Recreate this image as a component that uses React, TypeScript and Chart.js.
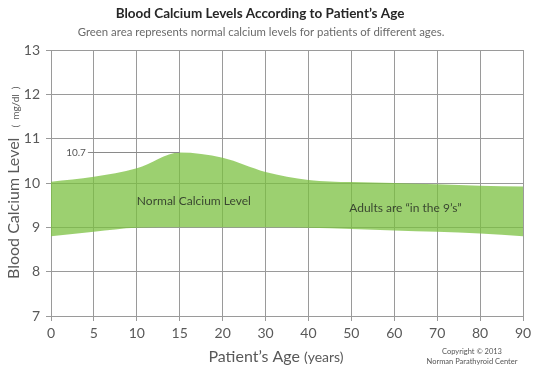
import { useEffect, useRef } from 'react';
import { Chart, registerables } from 'chart.js';

Chart.register(...registerables);

const ages = ['0', '5', '10', '15', '20', '30', '40', '50', '60', '70', '80', '90'];
const upperNormal = [10.03, 10.14, 10.33, 10.69, 10.57, 10.25, 10.07, 10.02, 10.0, 9.97, 9.94, 9.92];
const lowerNormal = [8.8, 8.9, 8.99, 9.0, 9.0, 9.0, 8.99, 8.96, 8.93, 8.9, 8.86, 8.8];
const yMin = 7;
const yMax = 13;
const peakValue = 10.7;
const peakIndex = 3;
const areaLabels = [
  { text: 'Normal Calcium Level', at: 3.33, value: 9.58 },
  { text: 'Adults are \u201Cin the 9\u2019s\u201D', at: 8.26, value: 9.44 },
];

const titleText = 'Blood Calcium Levels According to Patient\u2019s Age';
const subtitleText = 'Green area represents normal calcium levels for patients of different ages.';
const yTitle = 'Blood Calcium Level';
const yUnit = '(  mg/dl  )';
const xTitle = 'Patient\u2019s Age';
const xUnit = '(years)';
const copyright1 = 'Copyright \u00A9 2013';
const copyright2 = 'Norman Parathyroid Center';

const FONT = 'Lato, "Open Sans", sans-serif';

const textPlugin = {
  id: 'texts',
  afterDatasetsDraw(chart: any) {
    const ctx = chart.ctx;
    const xs = chart.scales.x;
    const ys = chart.scales.y;
    ctx.save();
    // titles
    ctx.textAlign = 'center';
    ctx.textBaseline = 'middle';
    ctx.fillStyle = '#262626';
    ctx.font = `bold 13.5px ${FONT}`;
    ctx.fillText(titleText, 260, 14);
    ctx.fillStyle = '#6a6a6a';
    ctx.font = `11.4px ${FONT}`;
    ctx.fillText(subtitleText, 261, 32);

    // area labels
    ctx.fillStyle = '#3a4830';
    ctx.font = `12px ${FONT}`;
    for (const l of areaLabels) {
      ctx.fillText(l.text, xs.getPixelForValue(l.at), ys.getPixelForValue(l.value));
    }

    // peak annotation
    const py = Math.round(ys.getPixelForValue(peakValue)) + 0.5;
    const startX = xs.getPixelForValue(0.86);
    ctx.strokeStyle = '#8a8a8a';
    ctx.lineWidth = 1;
    ctx.beginPath();
    ctx.moveTo(startX, py);
    ctx.lineTo(xs.getPixelForValue(peakIndex), py);
    ctx.stroke();
    ctx.textAlign = 'right';
    ctx.fillStyle = '#555555';
    ctx.font = `10px ${FONT}`;
    ctx.fillText(String(peakValue), startX - 2, py);

    // y axis title
    ctx.save();
    ctx.translate(19, 279);
    ctx.rotate(-Math.PI / 2);
    ctx.textAlign = 'left';
    ctx.textBaseline = 'alphabetic';
    ctx.fillStyle = '#595959';
    ctx.font = `16px ${FONT}`;
    ctx.fillText(yTitle, 0, 0);
    const w = ctx.measureText(yTitle).width;
    ctx.font = `10px ${FONT}`;
    ctx.fillText(yUnit, w + 10, 0);
    ctx.restore();

    // x axis title
    ctx.textAlign = 'left';
    ctx.textBaseline = 'alphabetic';
    ctx.fillStyle = '#595959';
    ctx.font = `16px ${FONT}`;
    const w1 = ctx.measureText(xTitle + ' ').width;
    ctx.font = `14px ${FONT}`;
    const w2 = ctx.measureText(xUnit).width;
    const x0 = 276 - (w1 + w2) / 2;
    ctx.font = `16px ${FONT}`;
    ctx.fillText(xTitle + ' ', x0, 362);
    ctx.font = `14px ${FONT}`;
    ctx.fillText(xUnit, x0 + w1, 362);

    // copyright
    ctx.textAlign = 'center';
    ctx.textBaseline = 'middle';
    ctx.fillStyle = '#555555';
    ctx.font = `7.5px ${FONT}`;
    ctx.fillText(copyright1, 472, 352);
    ctx.fillText(copyright2, 472, 362);
    ctx.restore();
  },
};

export default function App() {
  const ref = useRef<HTMLCanvasElement>(null);
  useEffect(() => {
    if (!ref.current) return;
    const gridColor = '#9a9a9a';
    const chart = new Chart(ref.current, {
      type: 'line',
      data: {
        labels: ages,
        datasets: [
          {
            label: 'Lower normal',
            data: lowerNormal,
            borderWidth: 0,
            pointRadius: 0,
            cubicInterpolationMode: 'monotone',
            fill: false,
          },
          {
            label: 'Upper normal',
            data: upperNormal,
            borderWidth: 0,
            pointRadius: 0,
            cubicInterpolationMode: 'monotone',
            fill: 0,
            backgroundColor: 'rgba(122,192,62,0.74)',
          },
        ],
      },
      options: {
        animation: false,
        responsive: false,
        maintainAspectRatio: false,
        layout: { padding: { left: 0, top: 50, right: 17, bottom: 0 } },
        plugins: { legend: { display: false }, tooltip: { enabled: false }, title: { display: false } },
        scales: {
          x: {
            type: 'category',
            offset: false,
            grid: { color: gridColor, lineWidth: 1, tickLength: 5, drawTicks: true },
            border: { color: gridColor },
            ticks: { color: '#595959', font: { family: FONT, size: 14 }, padding: 4, maxRotation: 0, autoSkip: false },
            afterFit: (s: any) => { s.height = 55; },
          },
          y: {
            min: yMin,
            max: yMax,
            grid: { color: gridColor, lineWidth: 1, tickLength: 5 },
            border: { color: gridColor },
            ticks: { stepSize: 1, color: '#595959', font: { family: FONT, size: 14 }, padding: 6 },
            afterFit: (s: any) => { s.width = 51; },
          },
        },
      },
      plugins: [textPlugin],
    });
    return () => chart.destroy();
  }, []);
  return (
    <div style={{ position: 'fixed', left: 0, top: 0, width: 540, height: 371, background: '#fff' }}>
      <canvas ref={ref} width={540} height={371} style={{ display: 'block' }} />
    </div>
  );
}
